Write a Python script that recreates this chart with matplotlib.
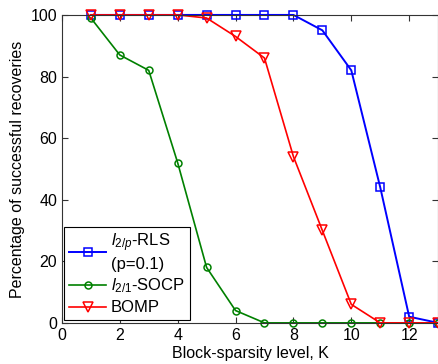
import numpy as np
import matplotlib.pyplot as plt

plt.rcParams['font.family'] = ['Liberation Sans', 'DejaVu Sans']
plt.rcParams['mathtext.fontset'] = 'custom'
plt.rcParams['mathtext.it'] = 'Liberation Sans:italic'
plt.rcParams['mathtext.rm'] = 'Liberation Sans'

K = [1, 2, 3, 4, 5, 6, 7, 8, 9, 10, 11, 12, 13]
rls = [100, 100, 100, 100, 100, 100, 100, 100, 95, 82, 44, 2, 0]
socp = [99, 87, 82, 52, 18, 4, 0, 0, 0, 0, 0, 0, 0]
bomp = [100, 100, 100, 100, 99, 93, 86, 54, 30, 6, 0, 0, 0]

fig = plt.figure(figsize=(4.39, 3.64), dpi=100)
ax = fig.add_axes([0.141, 0.113, 0.857, 0.846])

ax.plot(K, rls, '-s', color='#0000ff', lw=1.4, ms=6, mfc='none', mew=1.1,
        label='$l_{2/p}$-RLS\n(p=0.1)', clip_on=False)
ax.plot(K, socp, '-o', color='#008000', lw=1.2, ms=5, mfc='none', mew=1.1,
        label='$l_{2/1}$-SOCP', clip_on=False)
ax.plot(K, bomp, '-v', color='#ff0000', lw=1.2, ms=6.5, mfc='none', mew=1.1,
        label='BOMP', clip_on=False)

ax.set_xlim(0, 13)
ax.set_ylim(0, 100)
ax.set_xticks([0, 2, 4, 6, 8, 10, 12])
ax.set_yticks([0, 20, 40, 60, 80, 100])
for s in ax.spines.values():
    s.set_color('#333333')
ax.tick_params(direction='in', top=True, right=True, labelsize=11.5, length=4,
               color='#333333')
ax.set_xlabel('Block-sparsity level, K', fontsize=11.5, labelpad=2)
ax.set_ylabel('Percentage of successful recoveries', fontsize=11.5, labelpad=4)

leg = ax.legend(loc='lower left', fontsize=12, fancybox=False, framealpha=1,
                edgecolor='black', borderaxespad=0.15, handlelength=2.2,
                handletextpad=0.3, labelspacing=0.3, borderpad=0.3)
leg.get_frame().set_linewidth(0.8)
leg.set_zorder(5)

fig.savefig('out.png', dpi=100)
